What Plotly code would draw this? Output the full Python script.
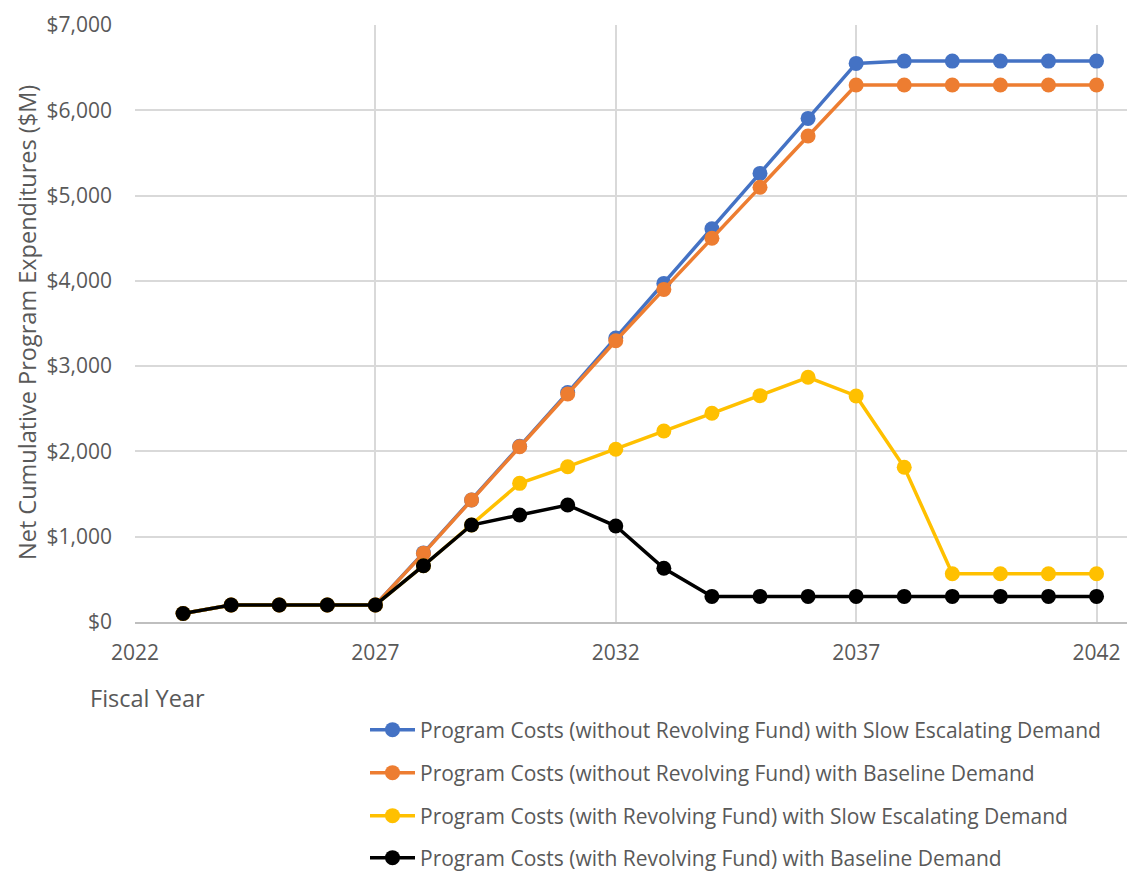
import plotly.graph_objects as go

years = list(range(2023, 2043))
names = [
    "Program Costs (without Revolving Fund) with Slow Escalating Demand",
    "Program Costs (without Revolving Fund) with Baseline Demand",
    "Program Costs (with Revolving Fund) with Slow Escalating Demand",
    "Program Costs (with Revolving Fund) with Baseline Demand",
]
no_rf_slow = [100, 200, 200, 200, 200, 810, 1430, 2060, 2690, 3330, 3970, 4610, 5260, 5905, 6550, 6577, 6577, 6577, 6577, 6577]
no_rf_base = [100, 200, 200, 200, 200, 805, 1430, 2055, 2673, 3298, 3900, 4500, 5097, 5698, 6296, 6296, 6296, 6296, 6296, 6296]
rf_slow = [100, 200, 200, 200, 200, 660, 1137, 1626, 1821, 2025, 2239, 2447, 2654, 2869, 2650, 1814, 565, 565, 565, 565]
rf_base = [100, 200, 200, 200, 200, 660, 1137, 1254, 1372, 1125, 630, 300, 300, 300, 300, 300, 300, 300, 300, 300]
series = [no_rf_slow, no_rf_base, rf_slow, rf_base]
colors = ["#4472C4", "#ED7D31", "#FFC000", "#000000"]

FONT = "Open Sans"
TXT = "#595959"
FS = 21
FT = 23.5

# page body adds an 8px offset; figure coordinates below are screen minus 8
OFF = 8
W, H = 1135 - OFF, 872 - OFF
L, R, T, B = 135 - OFF, 0, 25 - OFF, 872 - 622
PW, PH = W - L - R, H - T - B


def px_x(sx):
    return (sx - OFF - L) / PW


def px_y(sy):
    return (H - B - (sy - OFF)) / PH


fig = go.Figure()
legend_ids = ["legend", "legend2", "legend3", "legend4"]
for name, vals, col, lg in zip(names, series, colors, legend_ids):
    fig.add_trace(go.Scatter(
        x=years, y=vals, name=name, mode="lines+markers",
        line=dict(color=col, width=3.5),
        marker=dict(color=col, size=15),
        legend=lg,
    ))

legend_rows = [730, 773, 816, 858]
leg = {}
for lg, yy in zip(legend_ids, legend_rows):
    leg[lg] = dict(
        x=px_x(365), xanchor="left",
        y=px_y(yy), yanchor="middle",
        bgcolor="rgba(0,0,0,0)",
        font=dict(family=FONT, size=FS, color=TXT),
        itemwidth=45,
    )

fig.update_layout(
    width=W, height=H,
    margin=dict(l=L, r=R, t=T, b=B, autoexpand=False),
    paper_bgcolor="white", plot_bgcolor="white",
    font=dict(family=FONT, size=FS, color=TXT),
    showlegend=True,
    xaxis=dict(
        range=[2022, 2042.8], tick0=2022, dtick=5,
        showgrid=True, gridcolor="#D9D9D9", gridwidth=1.5,
        zeroline=False, showline=True, linecolor="#BFBFBF", linewidth=1.5,
        ticks="", ticklabelstandoff=11,
        tickfont=dict(family=FONT, size=FS, color=TXT),
    ),
    yaxis=dict(
        range=[0, 7000], dtick=1000, tickprefix="$", tickformat=",",
        showgrid=True, gridcolor="#D9D9D9", gridwidth=1.5,
        zeroline=False, showline=False,
        ticks="", ticklabelstandoff=22,
        tickfont=dict(family=FONT, size=FS, color=TXT),
    ),
    **leg,
)
fig.add_annotation(
    text="Net Cumulative Program Expenditures ($M)", textangle=-90,
    xref="paper", yref="paper", x=px_x(27), xanchor="center",
    y=px_y(323), yanchor="middle",
    showarrow=False, font=dict(family=FONT, size=FT, color=TXT),
)
fig.add_annotation(
    text="Fiscal Year", xref="paper", yref="paper",
    x=px_x(88), xanchor="left",
    y=px_y(698), yanchor="middle",
    showarrow=False, font=dict(family=FONT, size=FT, color=TXT),
)

fig.write_html("out.html")
